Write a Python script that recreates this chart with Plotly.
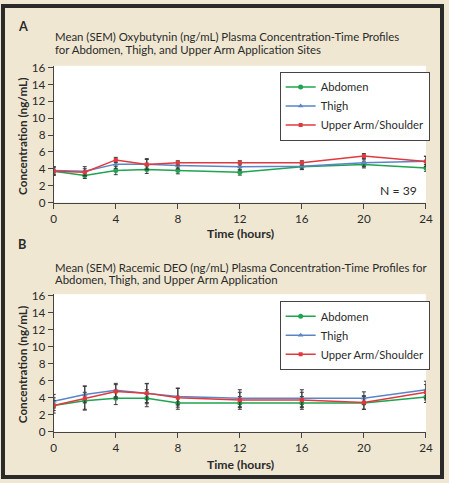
import plotly.graph_objects as go

# Figure size; the photographed canvas is slightly larger than the figure,
# so reference pixel positions are scaled by K when placed in the figure.
W, H = 449, 483
K = 457 / 449

FONT = "Lato"
TXT = "#2b2b2b"
BG = "#efe7d2"

times = [0, 2, 4, 6, 8, 12, 16, 20, 24]
series_names = ["Abdomen", "Thigh", "Upper Arm/Shoulder"]
colors = ["#1fa44f", "#5b85c6", "#e03a3e"]
symbols = ["circle", "triangle-up", "square"]
msizes = [5, 5, 4]

# Panel A: Oxybutynin
a_abdomen = [3.7, 3.2, 3.8, 3.9, 3.8, 3.6, 4.25, 4.5, 4.1]
a_thigh = [3.8, 3.7, 4.55, 4.55, 4.4, 4.25, 4.3, 4.7, 4.9]
a_upper = [3.7, 3.6, 5.05, 4.5, 4.7, 4.7, 4.7, 5.5, 4.85]
a_abdomen_err = [0.5, 0.35, 0.5, 0.45, 0.4, 0.35, 0.35, 0.4, 0.4]
a_thigh_err = [0.45, 0.55, 0.5, 0.65, 0.4, 0.4, 0.35, 0.45, 0.6]
a_upper_err = [0.4, 0.4, 0.3, 0.6, 0.25, 0.25, 0.25, 0.3, 0.6]

# Panel B: Racemic DEO
b_abdomen = [3.1, 3.65, 3.95, 3.95, 3.4, 3.4, 3.4, 3.4, 4.1]
b_thigh = [3.6, 4.4, 4.9, 4.5, 4.15, 3.95, 3.95, 3.95, 4.95]
b_upper = [3.1, 3.95, 4.75, 4.55, 4.0, 3.75, 3.75, 3.45, 4.65]
b_abdomen_err = [0.9, 1.0, 0.75, 1.0, 0.75, 0.75, 0.75, 0.75, 0.65]
b_thigh_err = [0.8, 1.0, 0.8, 1.2, 1.0, 1.0, 1.0, 0.75, 1.0]
b_upper_err = [0.6, 1.4, 0.8, 1.1, 1.1, 0.9, 0.9, 0.8, 0.9]

xticks = [0, 4, 8, 12, 16, 20, 24]
yticks = [0, 2, 4, 6, 8, 10, 12, 14, 16]

fig = go.Figure()

panels = [
    ("x", "y", "legend", [a_abdomen, a_thigh, a_upper], [a_abdomen_err, a_thigh_err, a_upper_err]),
    ("x2", "y2", "legend2", [b_abdomen, b_thigh, b_upper], [b_abdomen_err, b_thigh_err, b_upper_err]),
]
for xa, ya, leg, vals, errs in panels:
    for i in range(3):
        fig.add_trace(go.Scatter(
            x=times, y=vals[i], name=series_names[i], xaxis=xa, yaxis=ya, legend=leg,
            mode="lines+markers",
            line=dict(color=colors[i], width=1.5),
            marker=dict(symbol=symbols[i], size=msizes[i], color=colors[i]),
            error_y=dict(type="data", array=errs[i], color="#3a3a3a", thickness=1, width=2),
        ))

def py(p):
    return 1 - p * K / H

def px(p):
    return p * K / W

def fs(s):
    return round(s * K, 2)

axis_common = dict(
    showgrid=False, zeroline=False, showline=True, linecolor="#444", linewidth=1,
    ticks="outside", ticklen=5, tickcolor="#444", tickwidth=1,
    tickfont=dict(family=FONT, size=fs(11.5), color=TXT),
)
xdom = [px(51), px(425)]
legend_common = dict(xanchor="left", yanchor="top", bgcolor="white",
                     bordercolor="#444", borderwidth=1,
                     font=dict(family=FONT, size=fs(11), color=TXT),
                     tracegroupgap=0, itemwidth=30)
fig.update_layout(
    width=W, height=H,
    margin=dict(l=0, r=0, t=0, b=0),
    paper_bgcolor=BG,
    plot_bgcolor="#ffffff",
    font=dict(family=FONT, size=fs(11.5), color=TXT),
    xaxis=dict(domain=xdom, range=[0, 24], tickvals=xticks, anchor="y", **axis_common),
    yaxis=dict(domain=[py(198), py(60.3)], range=[0, 16.2], tickvals=yticks, anchor="x", **axis_common),
    xaxis2=dict(domain=xdom, range=[0, 24], tickvals=xticks, anchor="y2", **axis_common),
    yaxis2=dict(domain=[py(429), py(290.3)], range=[0, 16.2], tickvals=yticks, anchor="x2", **axis_common),
    legend=dict(x=px(278), y=py(66), **legend_common),
    legend2=dict(x=px(278), y=py(297), **legend_common),
    showlegend=True,
)

ann = [
    dict(text="<b>A</b>", x=px(13), y=py(20), size=12.5),
    dict(text="Mean (SEM) Oxybutynin (ng/mL) Plasma Concentration-Time Profiles", x=px(50), y=py(31), size=11.2),
    dict(text="for Abdomen, Thigh, and Upper Arm Application Sites", x=px(50), y=py(43.5), size=11.2),
    dict(text="<b>B</b>", x=px(13), y=py(240), size=12.5),
    dict(text="Mean (SEM) Racemic DEO (ng/mL) Plasma Concentration-Time Profiles for", x=px(50), y=py(263), size=11.2),
    dict(text="Abdomen, Thigh, and Upper Arm Application", x=px(50), y=py(275.5), size=11.2),
]
for a in ann:
    fig.add_annotation(text=a["text"], x=a["x"], y=a["y"], xref="paper", yref="paper",
                       xanchor="left", yanchor="middle", showarrow=False,
                       font=dict(family=FONT, size=fs(a["size"]), color=TXT))

for ycen in [229, 462]:
    fig.add_annotation(text="<b>Time (hours)</b>", x=px(239), y=py(ycen), xref="paper", yref="paper",
                       xanchor="center", yanchor="middle", showarrow=False,
                       font=dict(family=FONT, size=fs(12), color=TXT))
for ycen in [131, 361]:
    fig.add_annotation(text="<b>Concentration (ng/mL)</b>", x=px(19), y=py(ycen), xref="paper", yref="paper",
                       xanchor="center", yanchor="middle", showarrow=False, textangle=-90,
                       font=dict(family=FONT, size=fs(11.5), color=TXT))

fig.add_annotation(text="N = 39", x=px(418), y=py(186), xref="paper", yref="paper",
                   xanchor="right", yanchor="middle", showarrow=False,
                   font=dict(family=FONT, size=fs(12), color=TXT))

fig.add_shape(type="rect", xref="paper", yref="paper", x0=0, x1=1, y0=0, y1=1,
              line=dict(color="#2a2a2a", width=4), fillcolor="rgba(0,0,0,0)", layer="above")

page_css = (
    "var d=document.documentElement,b=document.body;"
    "d.style.margin='0';d.style.padding='0';d.style.background='" + BG + "';"
    "b.style.margin='0';b.style.padding='0';b.style.background='" + BG + "';"
    "b.style.overflow='hidden';d.style.overflow='hidden';"
)

fig.write_html(
    "out.html",
    config={"displayModeBar": False},
    post_script="});" + page_css + "(function(){",
)
